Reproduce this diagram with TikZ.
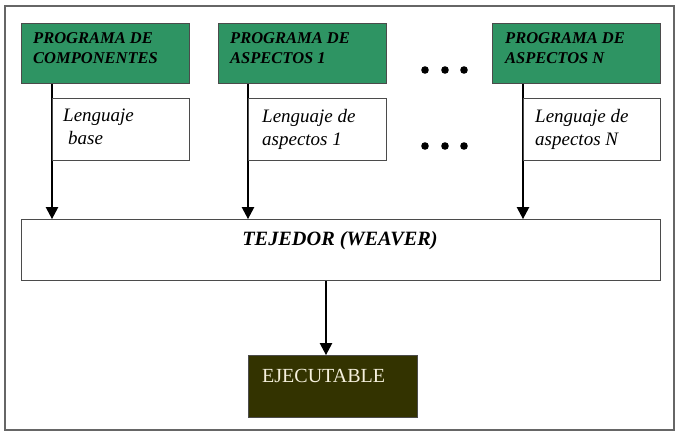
\documentclass[tikz,border=0pt]{standalone}
\usepackage{fontspec}
\setmainfont{Liberation Serif}
\usetikzlibrary{arrows.meta}
\definecolor{pgreen}{RGB}{46,148,99}
\definecolor{exefill}{RGB}{51,51,0}
\definecolor{exetext}{RGB}{245,240,220}
\definecolor{border}{RGB}{75,75,75}
\tikzset{
  gbox/.style={draw=border, line width=1.2pt, fill=pgreen, minimum width=168pt, minimum height=60pt, anchor=north west, inner sep=0pt},
  lbox/.style={draw=border, line width=1.2pt, fill=white, minimum height=62pt, anchor=north west, inner sep=0pt},
  gtext/.style={anchor=north west, inner sep=0pt, align=left, font=\fontsize{16.5}{20}\selectfont\bfseries\itshape},
  ltext/.style={anchor=north west, inner sep=0pt, align=left, font=\fontsize{19}{23}\selectfont\itshape},
  arr/.style={line width=1.1pt, black, -{Triangle[width=12.5pt,length=12pt]}},
}
\begin{document}
\begin{tikzpicture}[x=1pt,y=-1pt]
\useasboundingbox (0,0) rectangle (680,437);
% outer frame
\draw[line width=1.5pt, draw=black!60] (5,6) rectangle (674,430);
% program boxes
\node[gbox] (g1) at (21,23) {};
\node[gbox] (g2) at (218,23) {};
\node[gbox] (g3) at (492,23) {};
% weaver
\node[draw=border, line width=1.2pt, fill=white, minimum width=639pt, minimum height=61pt, anchor=north west] (tej) at (21,219) {};
\node[anchor=base, inner sep=0pt, font=\fontsize{20.3}{24}\selectfont\bfseries\itshape] (tejt) at (340,245) {TEJEDOR (WEAVER)};
% executable
\node[draw=border, line width=1.2pt, fill=exefill, minimum width=169pt, minimum height=62pt, anchor=north west] (exe) at (248,355) {};
\node[anchor=base west, inner sep=0pt, text=exetext, font=\fontsize{20}{24}\selectfont] (exet) at (262,382) {EJECUTABLE};
% arrows from programs to weaver
\coordinate (a1) at (52,0);
\coordinate (a2) at (248,0);
\coordinate (a3) at (523,0);
\draw[arr] (a1 |- g1.south) -- (a1 |- tej.north);
\draw[arr] (a2 |- g2.south) -- (a2 |- tej.north);
\draw[arr] (a3 |- g3.south) -- (a3 |- tej.north);
% language boxes
\node[lbox, minimum width=137pt] (l1) at (52,98) {};
\node[lbox, minimum width=138pt] (l2) at (248,98) {};
\node[lbox, minimum width=137pt] (l3) at (523,98) {};
% texts
\node[gtext] (g1t) at (33,32) {PROGRAMA DE\\COMPONENTES};
\node[gtext] (g2t) at (230,32) {PROGRAMA DE\\ASPECTOS 1};
\node[gtext] (g3t) at (505,32) {PROGRAMA DE\\ASPECTOS N};
\node[ltext] (l1t) at (63,109) {Lenguaje\\\hspace*{5pt}base};
\node[ltext] (l2t) at (262,109) {Lenguaje de\\aspectos 1};
\node[ltext] (l3t) at (535,109) {Lenguaje de\\aspectos N};
% arrow to executable
\coordinate (ax) at (326,355);
\draw[arr] (ax |- tej.south) -- (ax |- exe.north);
% dots
\foreach \x in {425,445,464} {
  \fill (\x,70) circle (3.8pt);
  \fill (\x,146) circle (3.8pt);
}
\end{tikzpicture}
\end{document}
